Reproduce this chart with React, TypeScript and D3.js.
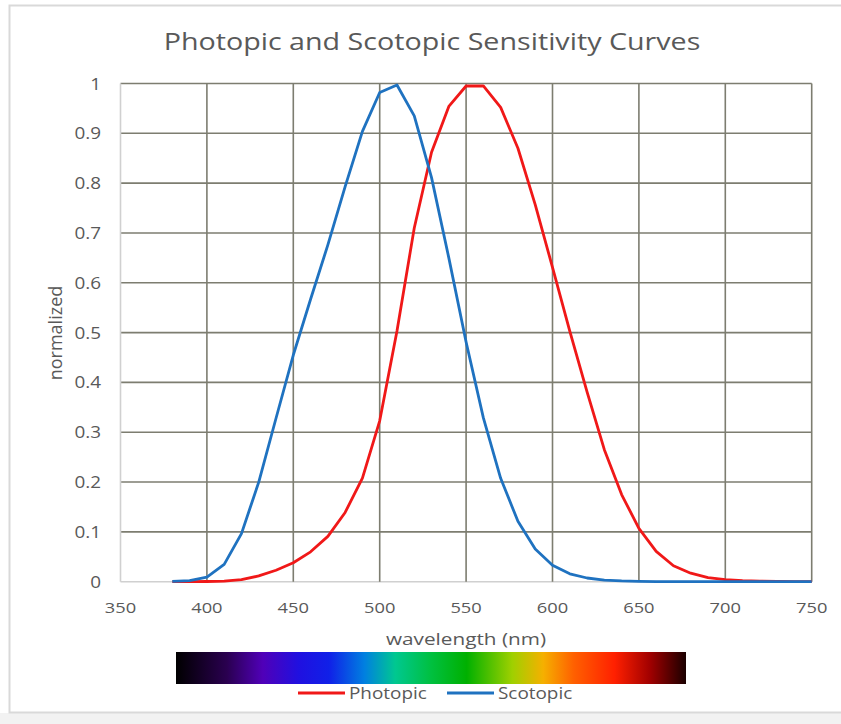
import React from "react";
import * as d3 from "d3";

const wavelengths = [380,390,400,410,420,430,440,450,460,470,480,490,500,510,520,530,540,550,560,570,580,590,600,610,620,630,640,650,660,670,680,690,700,710,720,730,740,750];
const photopic = [0.00004,0.00012,0.0004,0.0012,0.004,0.0116,0.023,0.038,0.06,0.091,0.139,0.208,0.323,0.503,0.71,0.862,0.954,0.995,0.995,0.952,0.87,0.757,0.631,0.503,0.381,0.265,0.175,0.107,0.061,0.032,0.017,0.0082,0.0041,0.0021,0.00105,0.00052,0.00025,0.00012];
const scotopic = [0.0006,0.0022,0.0093,0.0348,0.0966,0.1998,0.3281,0.455,0.567,0.676,0.793,0.904,0.982,0.997,0.935,0.811,0.65,0.481,0.3288,0.2076,0.1212,0.0655,0.0332,0.0159,0.0074,0.0033,0.0015,0.0007,0.0003,0.0001,0,0,0,0,0,0,0,0];
const xTicks = [350,400,450,500,550,600,650,700,750];
const yTicks = [0,0.1,0.2,0.3,0.4,0.5,0.6,0.7,0.8,0.9,1];
const spectrumStops = [
  [0, "#000000"], [0.1, "#2a0050"], [0.17, "#5000b8"], [0.24, "#2010e0"], [0.3, "#1020e8"],
  [0.37, "#0080e0"], [0.43, "#00c890"], [0.5, "#00c040"], [0.57, "#00b000"], [0.66, "#a0d000"],
  [0.72, "#f5b000"], [0.78, "#ff6000"], [0.86, "#ff2000"], [0.93, "#a00000"], [1, "#1a0000"],
] as [number, string][];
const seriesNames = ["Photopic", "Scotopic"];
const seriesColors = ["#f01818", "#1f72c0"];

const FONT = "'Open Sans', 'Noto Sans', sans-serif";
const TXT = "#595959";

function T({ x, y, sx = 1.22, size, anchor = "start", children }: any) {
  return (
    <text transform={`translate(${x},${y}) scale(${sx},1)`} textAnchor={anchor} fontFamily={FONT} fontSize={size} fill={TXT}>{children}</text>
  );
}

export default function App() {
  const W = 841, H = 724;
  const x = d3.scaleLinear().domain([350, 750]).range([120.5, 811.7]);
  const y = d3.scaleLinear().domain([0, 1]).range([581.7, 83.5]);
  const line = d3.line<[number, number]>().x(d => x(d[0])).y(d => y(d[1]));
  const series = [photopic, scotopic].map(vals => wavelengths.map((w, i) => [w, vals[i]] as [number, number]));
  const grid = "#7d7d70";
  return (
    <svg width={W} height={H} style={{ position: "absolute", left: 0, top: 0, background: "#fff" }}>
      <rect x={0} y={0} width={W} height={H} fill="#fff" />
      <rect x={0} y={713} width={W} height={11} fill="#f2f2f2" />
      <rect x={9.5} y={5.5} width={W} height={707} fill="#fff" stroke="#d9d9d9" strokeWidth={2} />
      <T x={432} y={50} sx={1.17} size={24.5} anchor="middle">Photopic and Scotopic Sensitivity Curves</T>
      {yTicks.map(t => (
        <line key={"y" + t} x1={x(350)} x2={x(750)} y1={y(t)} y2={y(t)} stroke={t === 0 ? "#d0d0d0" : grid} strokeWidth={1.6} />
      ))}
      {xTicks.map(t => (
        <line key={"x" + t} x1={x(t)} x2={x(t)} y1={y(0)} y2={y(1)} stroke={t === 350 ? "#d0d0d0" : grid} strokeWidth={1.6} />
      ))}
      {yTicks.map(t => (
        <T key={"yl" + t} x={101} y={y(t) + 6} size={15.5} anchor="end">{String(t)}</T>
      ))}
      {xTicks.map(t => (
        <T key={"xl" + t} x={x(t)} y={613} size={15} anchor="middle">{String(t)}</T>
      ))}
      <T x={466} y={645} size={17} anchor="middle">wavelength (nm)</T>
      <text transform={`translate(62,333) rotate(-90)`} textAnchor="middle" fontFamily={FONT} fontSize={18} fill={TXT}>normalized</text>
      {series.map((s, i) => (
        <path key={i} d={line(s) || ""} fill="none" stroke={seriesColors[i]} strokeWidth={2.8} strokeLinejoin="round" />
      ))}
      <defs>
        <linearGradient id="spec" x1="0" x2="1" y1="0" y2="0">
          {spectrumStops.map(([o, c]) => <stop key={o} offset={o} stopColor={c} />)}
        </linearGradient>
      </defs>
      <rect x={176} y={652} width={510} height={32} fill="url(#spec)" />
      {seriesNames.map((n, i) => {
        const lx = i === 0 ? 298 : 447;
        return (
          <g key={n}>
            <line x1={lx} x2={lx + 47} y1={693} y2={693} stroke={seriesColors[i]} strokeWidth={2.8} />
            <T x={lx + 51} y={699} size={15.5}>{n}</T>
          </g>
        );
      })}
    </svg>
  );
}
